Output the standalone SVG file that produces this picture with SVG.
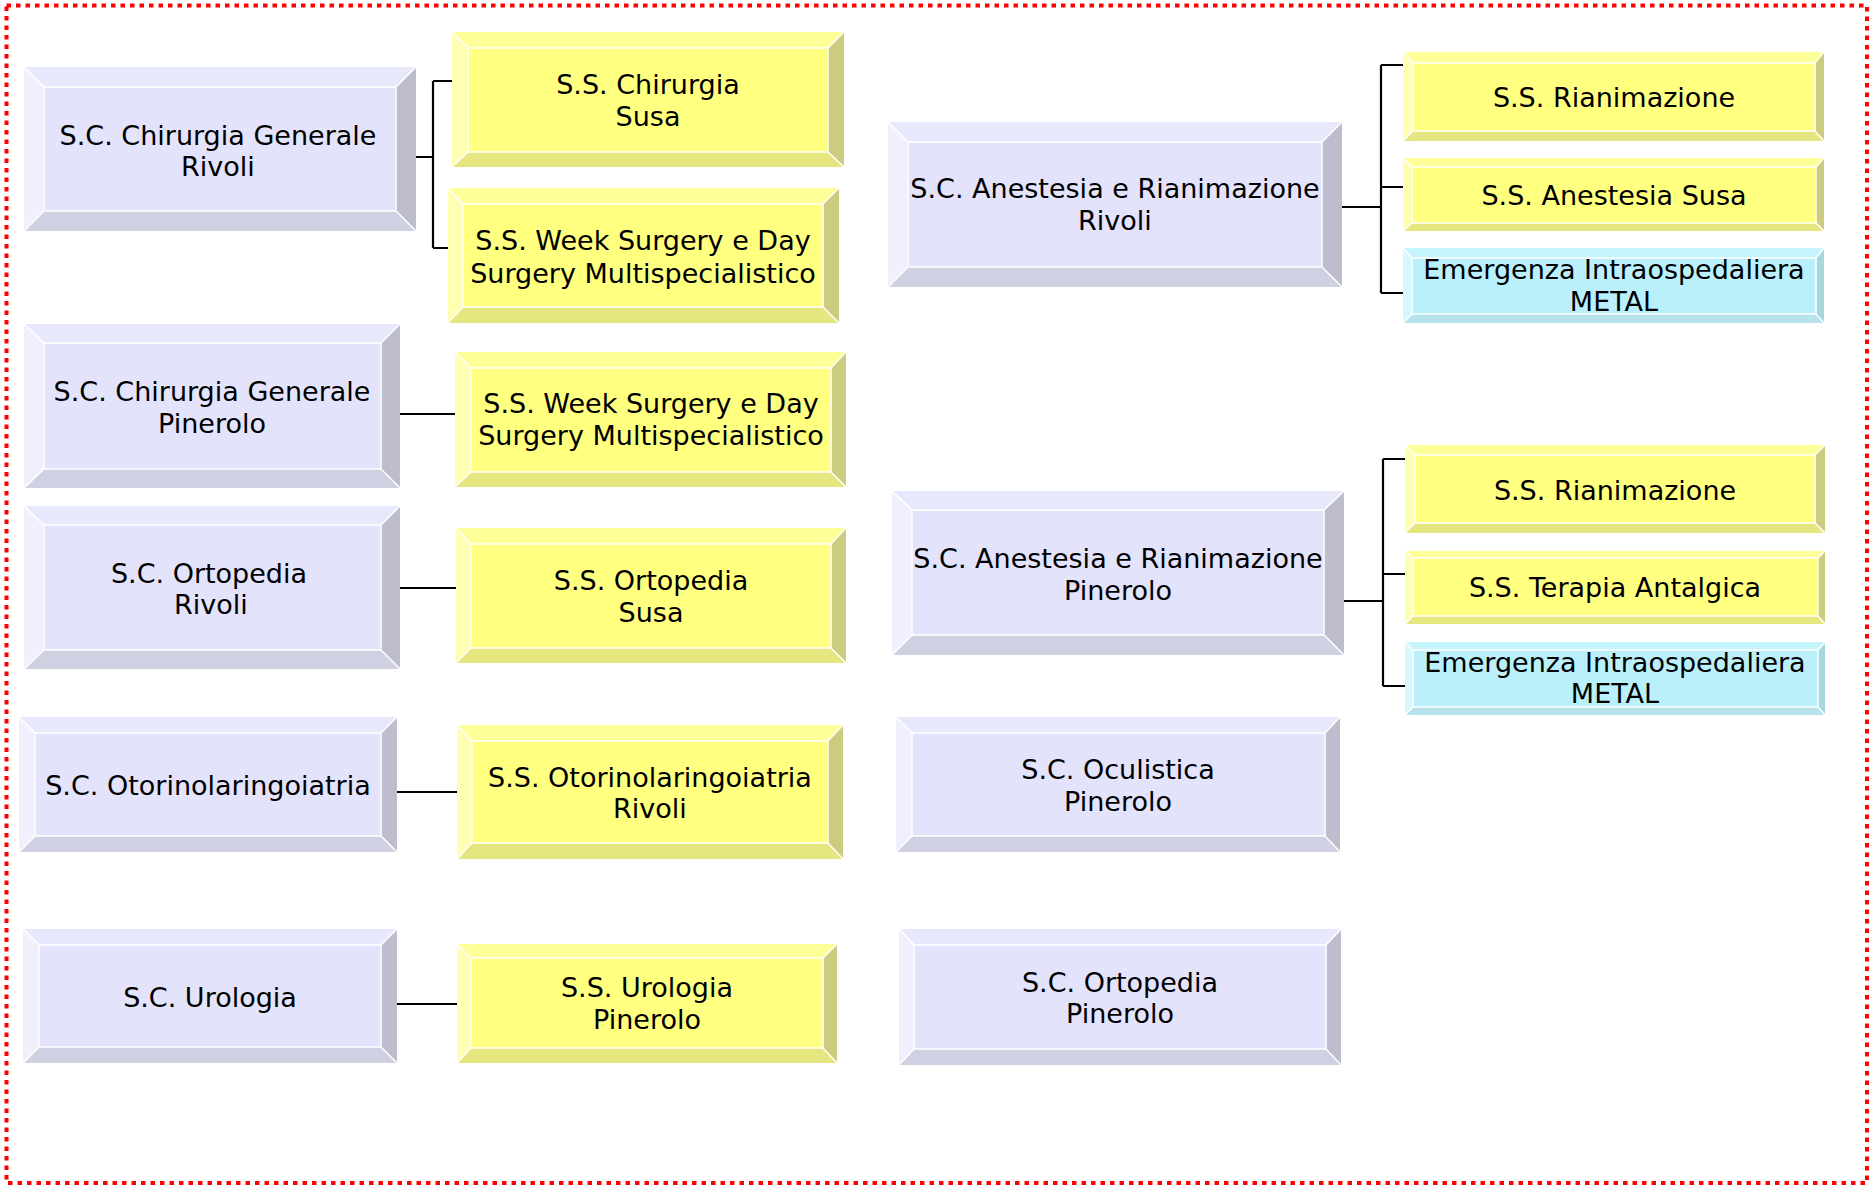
<svg xmlns="http://www.w3.org/2000/svg" width="1872" height="1185" viewBox="0 0 1872 1185">
<style>
text{font-family:"DejaVu Sans",Verdana,sans-serif;font-size:27px;fill:#000;text-anchor:middle}
.lav .t{fill:#E8E8FC}.lav .l{fill:#EFEFFD}.lav .r{fill:#BDBDCE}.lav .b{fill:#D0D0E3}.lav .f{fill:#E3E3FB}
.yel .t{fill:#FFFF99}.yel .l{fill:#FFFFB3}.yel .r{fill:#CCCC7F}.yel .b{fill:#E6E680}.yel .f{fill:#FFFF80}
.cy .t{fill:#C6F4FD}.cy .l{fill:#D5F7FE}.cy .r{fill:#A8D6DF}.cy .b{fill:#B6E2EC}.cy .f{fill:#B9F0FC}
.f{stroke:#fff;stroke-width:1.5}
.hl{stroke:#fff;stroke-width:1.5;fill:none}
.conn path{stroke:#000;stroke-width:2.2;fill:none}
</style>
<rect x="6.5" y="5.5" width="1860.5" height="1177.5" fill="none" stroke="#FF0000" stroke-width="4" stroke-dasharray="4.5 5"/>
<g class="conn">
<path d="M416 157H433M433 81V248M433 81H452M433 248H448"/>
<path d="M400 414H455"/>
<path d="M400 588H456"/>
<path d="M397 792H457"/>
<path d="M397 1004H457"/>
<path d="M1342 207H1381M1381 65V293M1381 65H1403M1381 187H1403M1381 293H1403"/>
<path d="M1344 601H1383M1383 459V686M1383 459H1405M1383 574H1405M1383 686H1405"/>
</g>
<g id="sc-chirurgia-rivoli" class="lav">
<polygon class="t" points="24,67 416,67 396,87 44,87"/><polygon class="l" points="24,67 44,87 44,211 24,231"/><polygon class="r" points="416,67 416,231 396,211 396,87"/><polygon class="b" points="24,231 44,211 396,211 416,231"/><rect class="f" x="44" y="87" width="352" height="124"/><path class="hl" d="M24 67L44 87M416 67L396 87M24 231L44 211M416 231L396 211"/>
<text x="218" y="145">S.C. Chirurgia Generale</text><text x="218" y="176">Rivoli</text>
</g>
<g id="ss-chirurgia-susa" class="yel">
<polygon class="t" points="452,32 844,32 828,48 468,48"/><polygon class="l" points="452,32 468,48 468,152 452,167"/><polygon class="r" points="844,32 844,167 828,152 828,48"/><polygon class="b" points="452,167 468,152 828,152 844,167"/><rect class="f" x="468" y="48" width="360" height="104"/><path class="hl" d="M452 32L468 48M844 32L828 48M452 167L468 152M844 167L828 152"/>
<text x="648" y="94">S.S. Chirurgia</text><text x="648" y="126">Susa</text>
</g>
<g id="ss-week-surgery-1" class="yel">
<polygon class="t" points="448,188 839,188 823,204 463,204"/><polygon class="l" points="448,188 463,204 463,307 448,323"/><polygon class="r" points="839,188 839,323 823,307 823,204"/><polygon class="b" points="448,323 463,307 823,307 839,323"/><rect class="f" x="463" y="204" width="360" height="103"/><path class="hl" d="M448 188L463 204M839 188L823 204M448 323L463 307M839 323L823 307"/>
<text x="643" y="250">S.S. Week Surgery e Day</text><text x="643" y="283">Surgery Multispecialistico</text>
</g>
<g id="sc-chirurgia-pinerolo" class="lav">
<polygon class="t" points="24,324 400,324 381,343 44,343"/><polygon class="l" points="24,324 44,343 44,469 24,488"/><polygon class="r" points="400,324 400,488 381,469 381,343"/><polygon class="b" points="24,488 44,469 381,469 400,488"/><rect class="f" x="44" y="343" width="337" height="126"/><path class="hl" d="M24 324L44 343M400 324L381 343M24 488L44 469M400 488L381 469"/>
<text x="212" y="401">S.C. Chirurgia Generale</text><text x="212" y="433">Pinerolo</text>
</g>
<g id="ss-week-surgery-2" class="yel">
<polygon class="t" points="455,352 846,352 831,368 471,368"/><polygon class="l" points="455,352 471,368 471,472 455,487"/><polygon class="r" points="846,352 846,487 831,472 831,368"/><polygon class="b" points="455,487 471,472 831,472 846,487"/><rect class="f" x="471" y="368" width="360" height="104"/><path class="hl" d="M455 352L471 368M846 352L831 368M455 487L471 472M846 487L831 472"/>
<text x="651" y="413">S.S. Week Surgery e Day</text><text x="651" y="445">Surgery Multispecialistico</text>
</g>
<g id="sc-ortopedia-rivoli" class="lav">
<polygon class="t" points="24,506 400,506 381,525 44,525"/><polygon class="l" points="24,506 44,525 44,650 24,669"/><polygon class="r" points="400,506 400,669 381,650 381,525"/><polygon class="b" points="24,669 44,650 381,650 400,669"/><rect class="f" x="44" y="525" width="337" height="125"/><path class="hl" d="M24 506L44 525M400 506L381 525M24 669L44 650M400 669L381 650"/>
<text x="209" y="583">S.C. Ortopedia</text><text x="211" y="614">Rivoli</text>
</g>
<g id="ss-ortopedia-susa" class="yel">
<polygon class="t" points="456,528 846,528 831,544 471,544"/><polygon class="l" points="456,528 471,544 471,648 456,663"/><polygon class="r" points="846,528 846,663 831,648 831,544"/><polygon class="b" points="456,663 471,648 831,648 846,663"/><rect class="f" x="471" y="544" width="360" height="104"/><path class="hl" d="M456 528L471 544M846 528L831 544M456 663L471 648M846 663L831 648"/>
<text x="651" y="590">S.S. Ortopedia</text><text x="651" y="622">Susa</text>
</g>
<g id="sc-otorino" class="lav">
<polygon class="t" points="19,717 397,717 381,733 35,733"/><polygon class="l" points="19,717 35,733 35,836 19,852"/><polygon class="r" points="397,717 397,852 381,836 381,733"/><polygon class="b" points="19,852 35,836 381,836 397,852"/><rect class="f" x="35" y="733" width="346" height="103"/><path class="hl" d="M19 717L35 733M397 717L381 733M19 852L35 836M397 852L381 836"/>
<text x="208" y="795">S.C. Otorinolaringoiatria</text>
</g>
<g id="ss-otorino-rivoli" class="yel">
<polygon class="t" points="457,725 843,725 828,741 472,741"/><polygon class="l" points="457,725 472,741 472,843 457,859"/><polygon class="r" points="843,725 843,859 828,843 828,741"/><polygon class="b" points="457,859 472,843 828,843 843,859"/><rect class="f" x="472" y="741" width="356" height="102"/><path class="hl" d="M457 725L472 741M843 725L828 741M457 859L472 843M843 859L828 843"/>
<text x="650" y="787">S.S. Otorinolaringoiatria</text><text x="650" y="818">Rivoli</text>
</g>
<g id="sc-urologia" class="lav">
<polygon class="t" points="23,929 397,929 381,945 39,945"/><polygon class="l" points="23,929 39,945 39,1047 23,1063"/><polygon class="r" points="397,929 397,1063 381,1047 381,945"/><polygon class="b" points="23,1063 39,1047 381,1047 397,1063"/><rect class="f" x="39" y="945" width="342" height="102"/><path class="hl" d="M23 929L39 945M397 929L381 945M23 1063L39 1047M397 1063L381 1047"/>
<text x="210" y="1007">S.C. Urologia</text>
</g>
<g id="ss-urologia-pinerolo" class="yel">
<polygon class="t" points="457,944 837,944 823,958 471,958"/><polygon class="l" points="457,944 471,958 471,1048 457,1063"/><polygon class="r" points="837,944 837,1063 823,1048 823,958"/><polygon class="b" points="457,1063 471,1048 823,1048 837,1063"/><rect class="f" x="471" y="958" width="352" height="90"/><path class="hl" d="M457 944L471 958M837 944L823 958M457 1063L471 1048M837 1063L823 1048"/>
<text x="647" y="997">S.S. Urologia</text><text x="647" y="1029">Pinerolo</text>
</g>
<g id="sc-anestesia-rivoli" class="lav">
<polygon class="t" points="888,122 1342,122 1322,142 908,142"/><polygon class="l" points="888,122 908,142 908,267 888,287"/><polygon class="r" points="1342,122 1342,287 1322,267 1322,142"/><polygon class="b" points="888,287 908,267 1322,267 1342,287"/><rect class="f" x="908" y="142" width="414" height="125"/><path class="hl" d="M888 122L908 142M1342 122L1322 142M888 287L908 267M1342 287L1322 267"/>
<text x="1115" y="198">S.C. Anestesia e Rianimazione</text><text x="1115" y="230">Rivoli</text>
</g>
<g id="sc-anestesia-pinerolo" class="lav">
<polygon class="t" points="892,491 1344,491 1324,510 912,510"/><polygon class="l" points="892,491 912,510 912,635 892,655"/><polygon class="r" points="1344,491 1344,655 1324,635 1324,510"/><polygon class="b" points="892,655 912,635 1324,635 1344,655"/><rect class="f" x="912" y="510" width="412" height="125"/><path class="hl" d="M892 491L912 510M1344 491L1324 510M892 655L912 635M1344 655L1324 635"/>
<text x="1118" y="568">S.C. Anestesia e Rianimazione</text><text x="1118" y="600">Pinerolo</text>
</g>
<g id="sc-oculistica" class="lav">
<polygon class="t" points="896,717 1340,717 1325,733 912,733"/><polygon class="l" points="896,717 912,733 912,836 896,852"/><polygon class="r" points="1340,717 1340,852 1325,836 1325,733"/><polygon class="b" points="896,852 912,836 1325,836 1340,852"/><rect class="f" x="912" y="733" width="413" height="103"/><path class="hl" d="M896 717L912 733M1340 717L1325 733M896 852L912 836M1340 852L1325 836"/>
<text x="1118" y="779">S.C. Oculistica</text><text x="1118" y="811">Pinerolo</text>
</g>
<g id="sc-ortopedia-pinerolo" class="lav">
<polygon class="t" points="899,929 1341,929 1326,945 914,945"/><polygon class="l" points="899,929 914,945 914,1049 899,1065"/><polygon class="r" points="1341,929 1341,1065 1326,1049 1326,945"/><polygon class="b" points="899,1065 914,1049 1326,1049 1341,1065"/><rect class="f" x="914" y="945" width="412" height="104"/><path class="hl" d="M899 929L914 945M1341 929L1326 945M899 1065L914 1049M1341 1065L1326 1049"/>
<text x="1120" y="992">S.C. Ortopedia</text><text x="1120" y="1023">Pinerolo</text>
</g>
<g id="ss-rianimazione-1" class="yel">
<polygon class="t" points="1403,52 1824,52 1815,63 1413,63"/><polygon class="l" points="1403,52 1413,63 1413,131 1403,141"/><polygon class="r" points="1824,52 1824,141 1815,131 1815,63"/><polygon class="b" points="1403,141 1413,131 1815,131 1824,141"/><rect class="f" x="1413" y="63" width="402" height="68"/><path class="hl" d="M1403 52L1413 63M1824 52L1815 63M1403 141L1413 131M1824 141L1815 131"/>
<text x="1614" y="107">S.S. Rianimazione</text>
</g>
<g id="ss-anestesia-susa" class="yel">
<polygon class="t" points="1403,158 1824,158 1816,167 1412,167"/><polygon class="l" points="1403,158 1412,167 1412,223 1403,231"/><polygon class="r" points="1824,158 1824,231 1816,223 1816,167"/><polygon class="b" points="1403,231 1412,223 1816,223 1824,231"/><rect class="f" x="1412" y="167" width="404" height="56"/><path class="hl" d="M1403 158L1412 167M1824 158L1816 167M1403 231L1412 223M1824 231L1816 223"/>
<text x="1614" y="205">S.S. Anestesia Susa</text>
</g>
<g id="emergenza-1" class="cy">
<polygon class="t" points="1403,248 1824,248 1816,258 1412,258"/><polygon class="l" points="1403,248 1412,258 1412,314 1403,323"/><polygon class="r" points="1824,248 1824,323 1816,314 1816,258"/><polygon class="b" points="1403,323 1412,314 1816,314 1824,323"/><rect class="f" x="1412" y="258" width="404" height="56"/><path class="hl" d="M1403 248L1412 258M1824 248L1816 258M1403 323L1412 314M1824 323L1816 314"/>
<text x="1614" y="279">Emergenza Intraospedaliera</text><text x="1614" y="311">METAL</text>
</g>
<g id="ss-rianimazione-2" class="yel">
<polygon class="t" points="1405,445 1825,445 1815,455 1415,455"/><polygon class="l" points="1405,445 1415,455 1415,523 1405,533"/><polygon class="r" points="1825,445 1825,533 1815,523 1815,455"/><polygon class="b" points="1405,533 1415,523 1815,523 1825,533"/><rect class="f" x="1415" y="455" width="400" height="68"/><path class="hl" d="M1405 445L1415 455M1825 445L1815 455M1405 533L1415 523M1825 533L1815 523"/>
<text x="1615" y="500">S.S. Rianimazione</text>
</g>
<g id="ss-terapia-antalgica" class="yel">
<polygon class="t" points="1405,551 1825,551 1818,558 1413,558"/><polygon class="l" points="1405,551 1413,558 1413,616 1405,624"/><polygon class="r" points="1825,551 1825,624 1818,616 1818,558"/><polygon class="b" points="1405,624 1413,616 1818,616 1825,624"/><rect class="f" x="1413" y="558" width="405" height="58"/><path class="hl" d="M1405 551L1413 558M1825 551L1818 558M1405 624L1413 616M1825 624L1818 616"/>
<text x="1615" y="597">S.S. Terapia Antalgica</text>
</g>
<g id="emergenza-2" class="cy">
<polygon class="t" points="1405,642 1825,642 1818,650 1413,650"/><polygon class="l" points="1405,642 1413,650 1413,707 1405,715"/><polygon class="r" points="1825,642 1825,715 1818,707 1818,650"/><polygon class="b" points="1405,715 1413,707 1818,707 1825,715"/><rect class="f" x="1413" y="650" width="405" height="57"/><path class="hl" d="M1405 642L1413 650M1825 642L1818 650M1405 715L1413 707M1825 715L1818 707"/>
<text x="1615" y="672">Emergenza Intraospedaliera</text><text x="1615" y="703">METAL</text>
</g>
</svg>
